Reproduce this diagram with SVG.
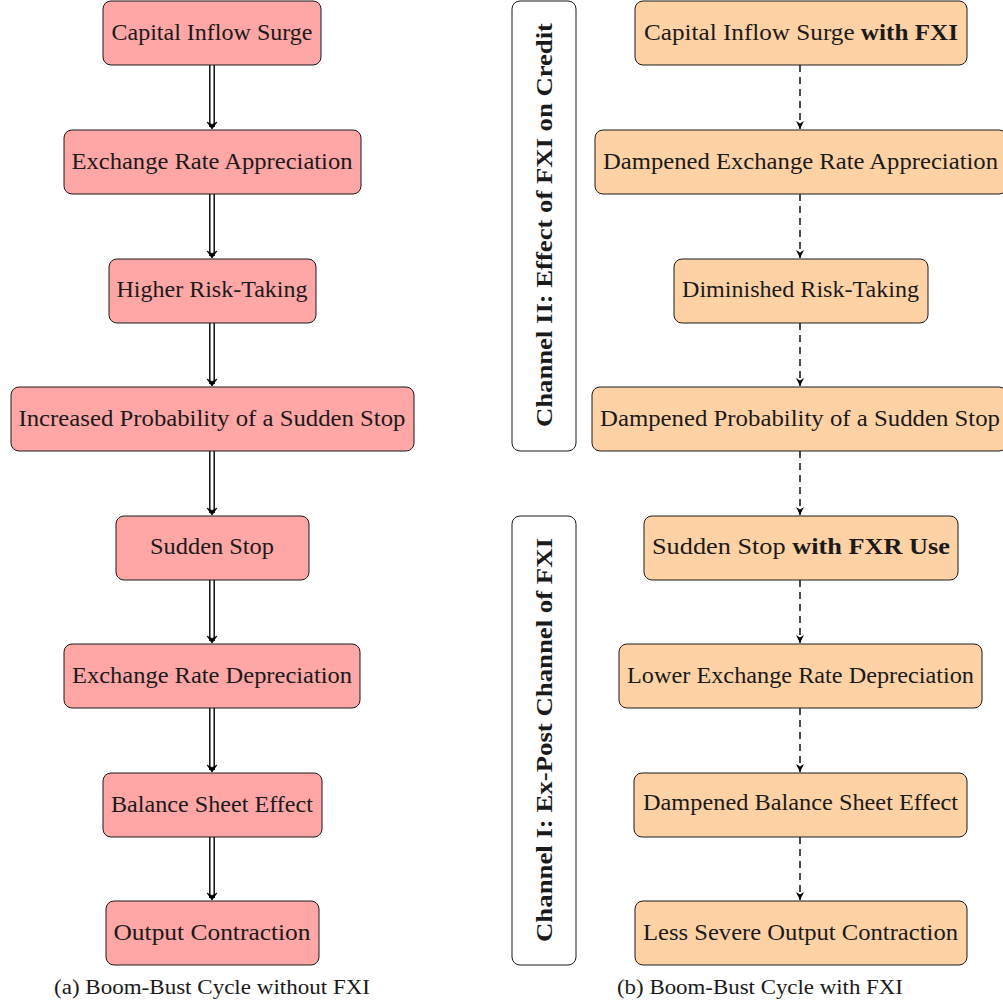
<svg xmlns="http://www.w3.org/2000/svg" width="1003" height="1001" viewBox="0 0 1003 1001">
<style>
.a{fill:#FFA6A6;stroke:#1a1a1a;stroke-width:1}
.b{fill:#FFD2A6;stroke:#1a1a1a;stroke-width:1}
.c{fill:#fff;stroke:#1a1a1a;stroke-width:1}
text{font-family:"Liberation Serif","DejaVu Serif",serif;font-size:23.5px;fill:#1a1a1a;text-anchor:middle;dominant-baseline:central}
.bold{font-weight:bold}
.cap{font-size:20px}
.dl{stroke:#000;stroke-width:1.4;fill:none}
.ds{stroke:#000;stroke-width:1.4;fill:none;stroke-dasharray:7,5}
</style>
<defs>
<marker id="st" markerWidth="12" markerHeight="12" refX="9" refY="6" orient="auto" markerUnits="userSpaceOnUse">
<path d="M1,2 L9,6 L1,10 L3.5,6 Z" fill="#000"/>
</marker>
<path id="dh" d="M-5,-6 Q-2,-2 0,1 Q2,-2 5,-6 Q2,-4 0,-3.5 Q-2,-4 -5,-6 Z" fill="#000" stroke="#000" stroke-width="0.8"/>
</defs>
<rect x="0" y="0" width="1003" height="1001" fill="#fff"/>
<g id="connectors">
<g id="left-arrows">
<path class="dl" d="M209.8,65V127M214.2,65V127"/><use href="#dh" x="212" y="128"/>
<path class="dl" d="M209.8,194V256M214.2,194V256"/><use href="#dh" x="212" y="257"/>
<path class="dl" d="M209.8,323V384M214.2,323V384"/><use href="#dh" x="212" y="385"/>
<path class="dl" d="M209.8,451V513M214.2,451V513"/><use href="#dh" x="212" y="514"/>
<path class="dl" d="M209.8,580V641M214.2,580V641"/><use href="#dh" x="212" y="642"/>
<path class="dl" d="M209.8,708V770M214.2,708V770"/><use href="#dh" x="212" y="771"/>
<path class="dl" d="M209.8,837V898M214.2,837V898"/><use href="#dh" x="212" y="899"/>
</g>
<g id="right-arrows">
<line class="ds" x1="800" y1="65" x2="800" y2="129" marker-end="url(#st)"/>
<line class="ds" x1="800" y1="194" x2="800" y2="258" marker-end="url(#st)"/>
<line class="ds" x1="800" y1="323" x2="800" y2="386" marker-end="url(#st)"/>
<line class="ds" x1="800" y1="451" x2="800" y2="515" marker-end="url(#st)"/>
<line class="ds" x1="800" y1="580" x2="800" y2="643" marker-end="url(#st)"/>
<line class="ds" x1="800" y1="708" x2="800" y2="772" marker-end="url(#st)"/>
<line class="ds" x1="800" y1="837" x2="800" y2="900" marker-end="url(#st)"/>
</g>
</g>
<g id="L1"><rect class="a" x="103" y="1" width="218" height="64" rx="8"/><text x="212" y="32" textLength="201" lengthAdjust="spacingAndGlyphs">Capital Inflow Surge</text></g>
<g id="L2"><rect class="a" x="64" y="130" width="297" height="64" rx="8"/><text x="212" y="161" textLength="281" lengthAdjust="spacingAndGlyphs">Exchange Rate Appreciation</text></g>
<g id="L3"><rect class="a" x="109" y="259" width="207" height="64" rx="8"/><text x="212" y="289" textLength="191" lengthAdjust="spacingAndGlyphs">Higher Risk-Taking</text></g>
<g id="L4"><rect class="a" x="11" y="387" width="403" height="64" rx="8"/><text x="212" y="418" textLength="387" lengthAdjust="spacingAndGlyphs">Increased Probability of a Sudden Stop</text></g>
<g id="L5"><rect class="a" x="116" y="516" width="193" height="64" rx="8"/><text x="212" y="546" textLength="124" lengthAdjust="spacingAndGlyphs">Sudden Stop</text></g>
<g id="L6"><rect class="a" x="64" y="644" width="296" height="64" rx="8"/><text x="212" y="675" textLength="280" lengthAdjust="spacingAndGlyphs">Exchange Rate Depreciation</text></g>
<g id="L7"><rect class="a" x="103" y="773" width="219" height="64" rx="8"/><text x="212" y="804" textLength="202" lengthAdjust="spacingAndGlyphs">Balance Sheet Effect</text></g>
<g id="L8"><rect class="a" x="106" y="901" width="213" height="64" rx="8"/><text x="212" y="932" textLength="197" lengthAdjust="spacingAndGlyphs">Output Contraction</text></g>
<g id="CH2"><rect class="c" x="512" y="1" width="64" height="450" rx="8"/><text class="bold" transform="translate(544,225) rotate(-90)" textLength="404" lengthAdjust="spacingAndGlyphs">Channel II: Effect of FXI on Credit</text></g>
<g id="CH1"><rect class="c" x="512" y="516" width="64" height="449" rx="8"/><text class="bold" transform="translate(544,740) rotate(-90)" textLength="404" lengthAdjust="spacingAndGlyphs">Channel I: Ex-Post Channel of FXI</text></g>
<g id="R1"><rect class="b" x="635" y="1" width="332" height="64" rx="8"/><text x="801" y="32" textLength="314" lengthAdjust="spacingAndGlyphs">Capital Inflow Surge <tspan class="bold">with FXI</tspan></text></g>
<g id="R2"><rect class="b" x="595" y="130" width="412" height="64" rx="8"/><text x="800.5" y="161" textLength="395" lengthAdjust="spacingAndGlyphs">Dampened Exchange Rate Appreciation</text></g>
<g id="R3"><rect class="b" x="674" y="259" width="254" height="64" rx="8"/><text x="800.5" y="289" textLength="237" lengthAdjust="spacingAndGlyphs">Diminished Risk-Taking</text></g>
<g id="R4"><rect class="b" x="592" y="387" width="415" height="64" rx="8"/><text x="800" y="418" textLength="400" lengthAdjust="spacingAndGlyphs">Dampened Probability of a Sudden Stop</text></g>
<g id="R5"><rect class="b" x="644" y="516" width="314" height="64" rx="8"/><text x="801" y="546" textLength="298" lengthAdjust="spacingAndGlyphs">Sudden Stop <tspan class="bold">with FXR Use</tspan></text></g>
<g id="R6"><rect class="b" x="619" y="644" width="363" height="64" rx="8"/><text x="800.5" y="675" textLength="347" lengthAdjust="spacingAndGlyphs">Lower Exchange Rate Depreciation</text></g>
<g id="R7"><rect class="b" x="634" y="773" width="333" height="64" rx="8"/><text x="800.5" y="802" textLength="315" lengthAdjust="spacingAndGlyphs">Dampened Balance Sheet Effect</text></g>
<g id="R8"><rect class="b" x="635" y="901" width="332" height="64" rx="8"/><text x="800.5" y="932" textLength="315" lengthAdjust="spacingAndGlyphs">Less Severe Output Contraction</text></g>
<text class="cap" x="212" y="987" textLength="316" lengthAdjust="spacingAndGlyphs">(a) Boom-Bust Cycle without FXI</text>
<text class="cap" x="760" y="987" textLength="286" lengthAdjust="spacingAndGlyphs">(b) Boom-Bust Cycle with FXI</text>
</svg>
